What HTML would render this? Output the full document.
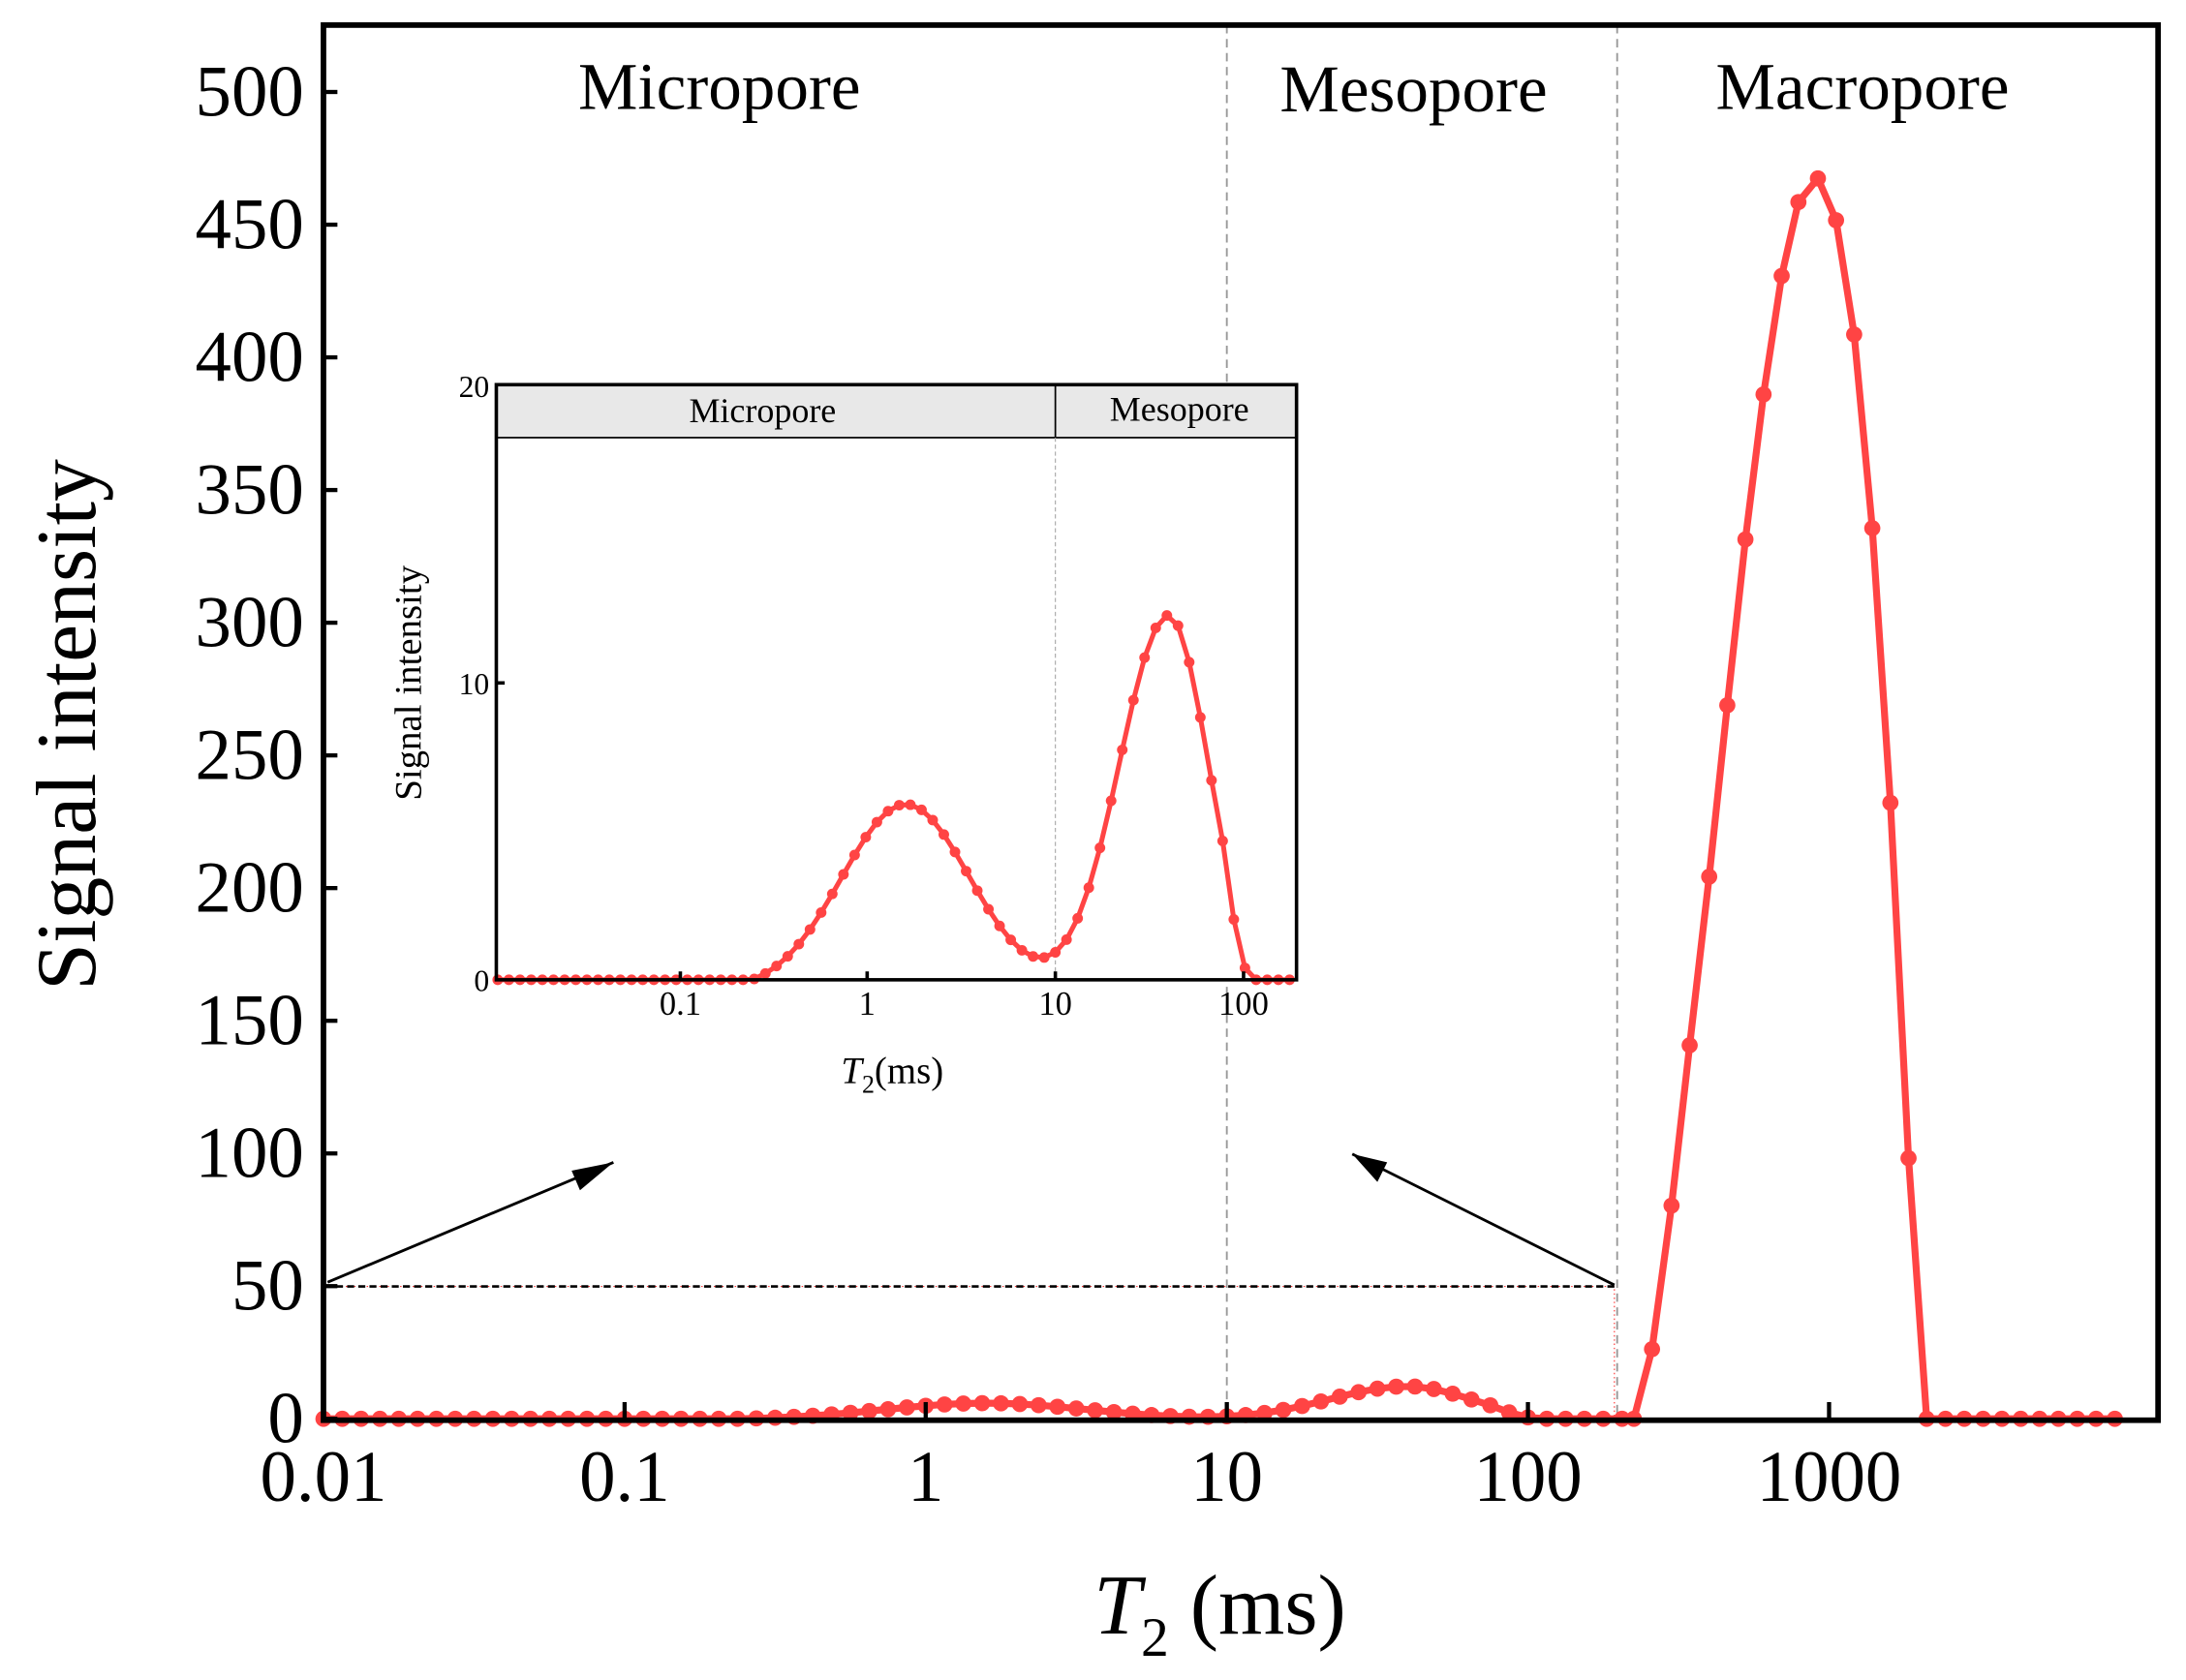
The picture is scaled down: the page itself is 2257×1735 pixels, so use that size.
<!DOCTYPE html>
<html><head><meta charset="utf-8"><style>html,body{margin:0;padding:0;background:#fff}svg{display:block}</style></head>
<body>
<svg id="s" xmlns="http://www.w3.org/2000/svg" width="2257" height="1735" viewBox="0 0 1568 1205.4" font-family="Liberation Serif, serif">
<rect width="1568" height="1206" fill="#fff"/>
<line x1="880" y1="18" x2="880" y2="1018" stroke="#999" stroke-width="1.3" stroke-dasharray="6,4"/>
<line x1="1160" y1="18" x2="1160" y2="1018" stroke="#999" stroke-width="1.3" stroke-dasharray="6,4"/>
<rect x="233" y="923" width="925" height="95" fill="none" stroke="#f33" stroke-width="0.8" stroke-dasharray="1,2"/>
<line x1="233" y1="923" x2="1158" y2="923" stroke="#000" stroke-width="1.8" stroke-dasharray="5,3"/>
<text x="516" y="78" font-size="48" text-anchor="middle">Micropore</text>
<text x="1014" y="80" font-size="48" text-anchor="middle">Mesopore</text>
<text x="1336" y="78" font-size="48" text-anchor="middle">Macropore</text>
<line x1="235" y1="920" x2="440" y2="834" stroke="#000" stroke-width="2"/>
<polygon points="440,834 416,854 410,840" fill="#000"/>
<line x1="1158" y1="922" x2="970" y2="828" stroke="#000" stroke-width="2"/>
<polygon points="970,828 995,834 988,848" fill="#000"/>
<g id="main"></g>
<rect x="232" y="18" width="1316" height="1001" fill="none" stroke="#000" stroke-width="4"/>
<g id="ticks"></g>
<text x="875" y="1172" font-size="61" text-anchor="middle"><tspan font-style="italic">T</tspan><tspan font-size="40" dy="16">2</tspan><tspan dy="-16"> (ms)</tspan></text>
<text transform="translate(68,520) rotate(-90)" font-size="61" text-anchor="middle">Signal intensity</text>
<rect x="356" y="276" width="574" height="427" fill="#fff"/>
<rect x="356" y="276" width="574" height="38" fill="#e8e8e8" stroke="#000" stroke-width="1.2"/>
<line x1="757" y1="276" x2="757" y2="314" stroke="#000" stroke-width="1.2"/>
<line x1="757" y1="314" x2="757" y2="703" stroke="#aaa" stroke-width="0.8" stroke-dasharray="3,2"/>
<text x="547" y="303" font-size="25" text-anchor="middle">Micropore</text>
<text x="846" y="302" font-size="25" text-anchor="middle">Mesopore</text>
<g id="ins"></g>
<rect x="356" y="276" width="574" height="427" fill="none" stroke="#000" stroke-width="2.5"/>
<g font-size="22" text-anchor="end"><text x="351" y="285">20</text><text x="351" y="498">10</text><text x="351" y="711">0</text></g>
<g stroke="#000" stroke-width="2.5"><line x1="356" y1="490" x2="362" y2="490"/><line x1="488" y1="703" x2="488" y2="697"/><line x1="622" y1="703" x2="622" y2="697"/><line x1="757" y1="703" x2="757" y2="697"/><line x1="892" y1="703" x2="892" y2="697"/></g>
<g font-size="24" text-anchor="middle"><text x="488" y="728">0.1</text><text x="622" y="728">1</text><text x="757" y="728">10</text><text x="892" y="728">100</text></g>
<text x="640" y="777" font-size="27" text-anchor="middle"><tspan font-style="italic">T</tspan><tspan font-size="18" dy="7">2</tspan><tspan dy="-7">(ms)</tspan></text>
<text transform="translate(302,490) rotate(-90)" font-size="27" text-anchor="middle">Signal intensity</text>
</svg>
<script>
var NS="http://www.w3.org/2000/svg";
function el(p,t,a){var e=document.createElementNS(NS,t);for(var k in a)e.setAttribute(k,a[k]);p.appendChild(e);return e;}
function f(l){
  var a=6.25*Math.exp(-Math.pow(l-0.2,2)/(2*0.116));
  var s2=l>1.6?0.045:0.068;
  var b=12.6*Math.exp(-Math.pow(l-1.6,2)/(2*s2));
  if(l>1.9)b*=Math.max(0,1-(l-1.9)/0.17);
  var v=a+b-0.35; return v<0?0:v;}
var g=document.getElementById('main');var pts=[];
var mac=[[1172,1018],[1185,968],[1199,865],[1212,750],[1226,629],[1239,506],[1252,387],[1265,283],[1278,198],[1290,145],[1304,128],[1317,158],[1330,240],[1343,379],[1356,576],[1369,831],[1382,1018]];
for(var x=232;x<1165;x+=13.5){var l=-2+(x-232)/216;pts.push([x,1018-f(l)*1.904]);}
mac.forEach(function(p){pts.push(p)});
for(var x=1395.5;x<1530;x+=13.5)pts.push([x,1018]);
el(g,'polyline',{points:pts.map(function(p){return p.join(',')}).join(' '),fill:'none',stroke:'#f44',"stroke-width":5});
pts.forEach(function(p){el(g,'circle',{cx:p[0],cy:p[1],r:5.8,fill:'#f44'})});
var t=document.getElementById('ticks');
for(var i=0;i<=10;i++){var y=1018-i*50*1.904;el(t,'line',{x1:232,y1:y,x2:242,y2:y,stroke:'#000',"stroke-width":3});
 var tx=el(t,'text',{x:218,y:y+17,"font-size":52,"text-anchor":"end"});tx.textContent=i*50;}
var lab=["0.01","0.1","1","10","100","1000"];
for(var d=0;d<6;d++){var x=232+d*216;el(t,'line',{x1:x,y1:1018,x2:x,y2:1006,stroke:'#000',"stroke-width":3});
 var tx=el(t,'text',{x:x,y:1077,"font-size":52,"text-anchor":"middle"});tx.textContent=lab[d];}
var gi=document.getElementById('ins');var ip=[];
for(var x=357;x<930;x+=8){var l=-1+(x-488)/134.7;ip.push([x,703-f(l)*21.35]);}
el(gi,'polyline',{points:ip.map(function(p){return p.join(',')}).join(' '),fill:'none',stroke:'#f44',"stroke-width":3.5});
ip.forEach(function(p){el(gi,'circle',{cx:p[0],cy:p[1],r:3.8,fill:'#f44'})});
</script>
</body></html>
